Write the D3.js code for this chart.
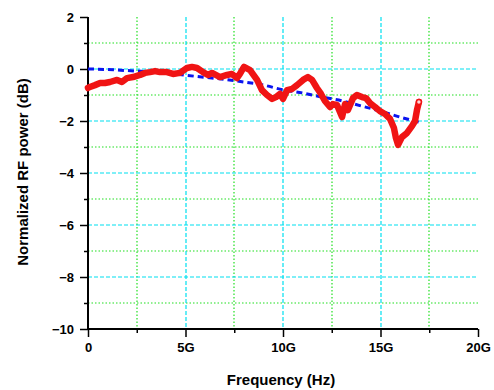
<!DOCTYPE html>
<html><head><meta charset="utf-8">
<title>Normalized RF power</title>
<script src="https://cdn.jsdelivr.net/npm/d3@7"></script>
<style>
body { margin: 0; background: #fff; }
text { font-family: "Liberation Sans", Arial, sans-serif; font-weight: bold; }
</style>
</head>
<body>
<script>
// measured response (GHz, dB)
var measFreq = [0, 0.10, 0.36, 0.62, 0.87, 1.13, 1.49, 1.74, 2.0, 2.31, 2.67, 2.92, 3.18, 3.44, 3.69, 4.05,
  4.36, 4.72, 5.08, 5.33, 5.59, 5.90, 6.15, 6.36, 6.77, 7.13, 7.38, 7.64, 7.79, 8.0, 8.31, 8.67, 8.92,
  9.18, 9.44, 9.64, 9.85, 10.0, 10.21, 10.46, 10.72, 11.03, 11.28, 11.49, 11.74, 11.95, 12.15, 12.41,
  12.56, 12.77, 13.03, 13.18, 13.33, 13.59, 13.79, 14.05, 14.26, 14.46, 14.72, 14.97, 15.23, 15.49,
  15.69, 15.79, 15.9, 16.1, 16.36, 16.62, 16.77, 16.87, 16.97];
var measPower = [-0.73, -0.69, -0.62, -0.54, -0.54, -0.50, -0.42, -0.50, -0.35, -0.31, -0.23, -0.15, -0.12,
  -0.08, -0.12, -0.12, -0.19, -0.15, 0.04, 0.08, 0.04, -0.12, -0.23, -0.15, -0.31, -0.23, -0.19, -0.35,
  -0.19, 0.08, -0.04, -0.42, -0.81, -1.0, -1.15, -1.08, -0.96, -1.15, -0.81, -0.77, -0.62, -0.42, -0.31,
  -0.42, -0.73, -0.96, -1.23, -1.46, -1.35, -1.38, -1.85, -1.35, -1.58, -1.12, -1.0, -1.08, -1.12, -1.31,
  -1.46, -1.62, -1.73, -1.92, -2.27, -2.65, -2.92, -2.62, -2.46, -2.19, -2.0, -1.58, -1.27];

// simulated response (GHz, dB)
var simFreq = [0, 1, 2, 3, 4, 5, 6, 7, 8, 9, 10, 11, 12, 13, 14, 15, 16, 17];
var simPower = [0, -0.02, -0.06, -0.1, -0.16, -0.24, -0.32, -0.4, -0.5, -0.62, -0.8, -0.92, -1.08, -1.22,
  -1.42, -1.62, -1.85, -2.05];

var xMajor = [0, 5, 10, 15, 20];
var xMinor = [2.5, 7.5, 12.5, 17.5];
var xTickLabels = ["0", "5G", "10G", "15G", "20G"];
var yMajor = [2, 0, -2, -4, -6, -8, -10];
var yMinor = [1, -1, -3, -5, -7, -9];

var width = 494, height = 390;
var margin = {left: 88, right: 16, top: 17, bottom: 61};
var svg = d3.select("body").append("svg").attr("width", width).attr("height", height);

var x = d3.scaleLinear().domain([0, 20]).range([margin.left, width - margin.right]);
var y = d3.scaleLinear().domain([-10, 2]).range([height - margin.bottom, margin.top]);

// put grid lines on whole pixels so they spread over two rows/columns (soft look)
function px(v) { return Math.round(v); }

// grid
function vgrid(vals, color, dash) {
  svg.append("g").selectAll("line").data(vals).enter().append("line")
    .attr("x1", function(d) { return px(x(d)); }).attr("x2", function(d) { return px(x(d)); })
    .attr("y1", y(2)).attr("y2", y(-10))
    .attr("stroke", color).attr("stroke-width", 1.2).attr("stroke-dasharray", dash);
}
function hgrid(vals, color, dash) {
  svg.append("g").selectAll("line").data(vals).enter().append("line")
    .attr("x1", x(0)).attr("x2", x(20))
    .attr("y1", function(d) { return px(y(d)); }).attr("y2", function(d) { return px(y(d)); })
    .attr("stroke", color).attr("stroke-width", 1.2).attr("stroke-dasharray", dash);
}
vgrid(xMinor, "#20e020", "1.5,2");
hgrid(yMinor, "#20e020", "1.5,2");
vgrid(xMajor.slice(1, 4), "#00e0f0", "4,2");
hgrid(yMajor.slice(1, 6), "#00e0f0", "4,2");

// axes
var xAxis = d3.axisBottom(x).tickValues(xMajor).tickSize(8).tickSizeOuter(0).tickPadding(6)
  .tickFormat(function(d, i) { return xTickLabels[i]; });
var gx = svg.append("g").attr("transform", "translate(0," + y(-10) + ")").call(xAxis);
var xAxisMinor = d3.axisBottom(x).tickValues(xMinor).tickSize(4).tickFormat("");
svg.append("g").attr("transform", "translate(0," + y(-10) + ")").call(xAxisMinor)
  .select(".domain").remove();

var yAxis = d3.axisLeft(y).tickValues(yMajor).tickSize(8).tickSizeOuter(0).tickPadding(6);
var gy = svg.append("g").attr("transform", "translate(" + x(0) + ",0)").call(yAxis);
var yAxisMinor = d3.axisLeft(y).tickValues(yMinor).tickSize(4).tickFormat("");
svg.append("g").attr("transform", "translate(" + x(0) + ",0)").call(yAxisMinor)
  .select(".domain").remove();

svg.selectAll(".domain").attr("stroke", "#000").attr("stroke-width", 2);
svg.selectAll(".tick line").attr("stroke", "#000").attr("stroke-width", 1.5);
svg.selectAll(".tick text").attr("fill", "#000").style("font-size", "13px");
gx.select(".domain").attr("d", "M" + (x(0) - 1) + ",0H" + x(20));
gy.select(".domain").attr("d", "M0," + y(2) + "V" + (y(-10) + 1));

// curves
svg.append("path")
  .datum(d3.range(simFreq.length))
  .attr("fill", "none").attr("stroke", "#0a14f0").attr("stroke-width", 3)
  .attr("stroke-dasharray", "6,4")
  .attr("d", d3.line().curve(d3.curveMonotoneX)
    .x(function(i) { return x(simFreq[i]); }).y(function(i) { return y(simPower[i]); }));

svg.append("path")
  .datum(d3.range(measFreq.length))
  .attr("fill", "none").attr("stroke", "#f01414").attr("stroke-width", 6.5)
  .attr("stroke-linejoin", "round").attr("stroke-linecap", "round")
  .attr("d", d3.line()
    .x(function(i) { return x(measFreq[i]); }).y(function(i) { return y(measPower[i]); }));

var last = measFreq.length - 1;
svg.append("circle")
  .attr("cx", x(measFreq[last])).attr("cy", y(measPower[last])).attr("r", 2.5)
  .attr("fill", "#ffd8d8").attr("stroke", "#f01414").attr("stroke-width", 1.5);

// titles
svg.append("text").attr("x", (x(0) + x(20)) / 2 - 2).attr("y", 385)
  .attr("text-anchor", "middle").style("font-size", "15px").text("Frequency (Hz)");
svg.append("text")
  .attr("transform", "translate(28," + (y(-4) - 1) + ") rotate(-90)")
  .attr("text-anchor", "middle").style("font-size", "15px").text("Normalized RF power (dB)");
</script>
</body></html>
